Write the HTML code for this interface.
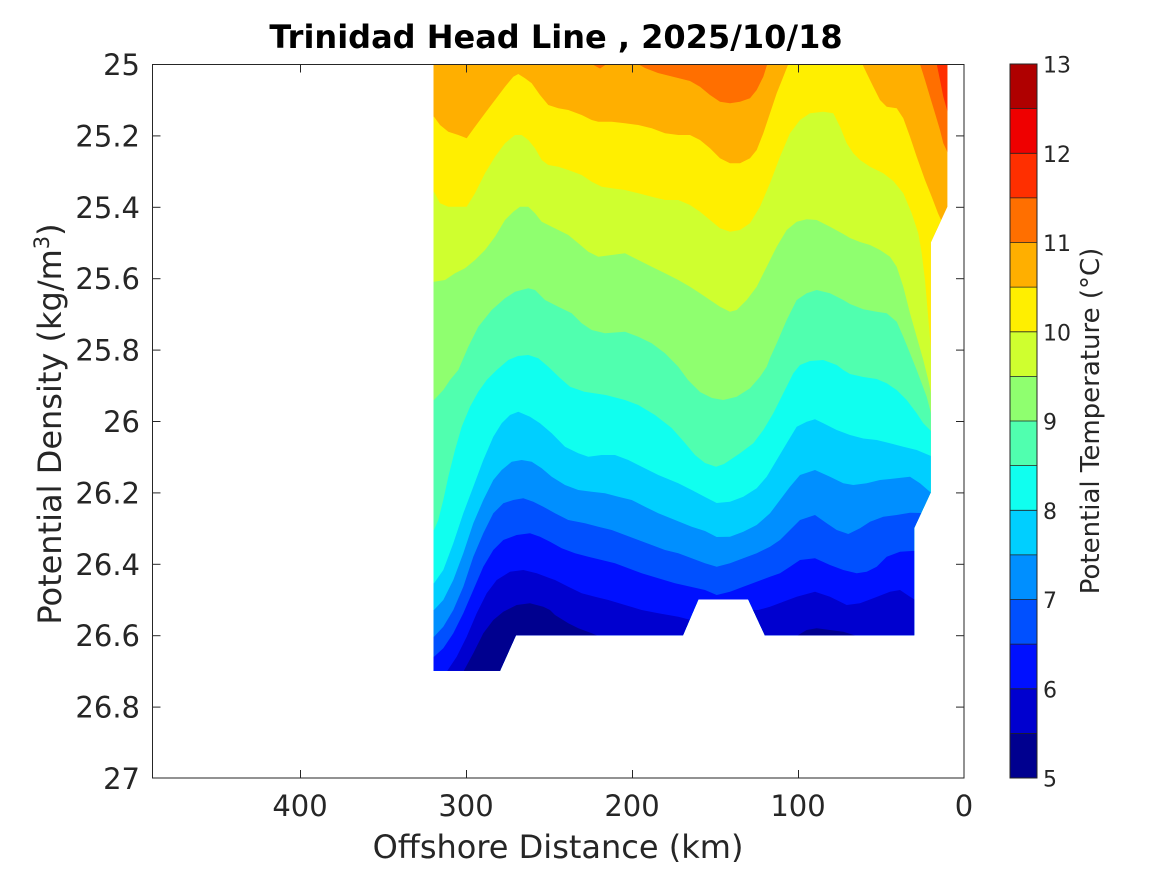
<!DOCTYPE html>
<html>
<head>
<meta charset="utf-8">
<style>
  html, body { margin:0; padding:0; background:#ffffff; }
  svg { display:block; }
  text { font-family: "DejaVu Sans", "Liberation Sans", sans-serif; fill:#262626; }
</style>
</head>
<body>
<svg width="1167" height="875" viewBox="0 0 1167 875" xmlns="http://www.w3.org/2000/svg">
  <rect x="0" y="0" width="1167" height="875" fill="#ffffff"/>
  <defs>
    <clipPath id="data">
      <polygon points="433.5,64 947.4,64 947.4,206.8 930.8,242.5 930.8,492.4 914.2,528.1 914.2,635.2 764.8,635.2 748.2,599.5 698.4,599.5 683,635.2 516,635.2 500,670.9 433.5,670.9"/>
    </clipPath>
  </defs>

  <g clip-path="url(#data)">
    <rect x="400" y="60" width="600" height="640" fill="#ffaf00"/>
    <path fill="#ff6f00" d="M591.7,64 L600,68.5 L606.7,64 Z"/>
    <path fill="#ff6f00" d="M636,60 L638,64 L645,68 L658,73 L678,78 L690,81 L700,86.7 L710,95 L720,101.7 L730,103.3 L740,101.7 L750,98.3 L756.7,90 L763.3,76.7 L767.3,64 L768,60 Z"/>
    <path fill="#ff6f00" d="M919,60 L920,64 L925,80 L930,96.7 L935,113.3 L940,130 L943.3,143.3 L948,153.3 L1000,153.3 L1000,60 Z"/>
    <path fill="#ff2f00" d="M936,60 L936.7,64 L940,80 L943.3,96.7 L948,113.3 L1000,113.3 L1000,60 Z"/>

    <path fill="#ffef00" d="M400,116.7 L434,116.7 L440,125 L448.3,131.7 L458.3,135 L466.7,138.3 L475,126.7 L485,113.3 L495,100 L505,86.7 L513.3,76.7 L518.3,74 L525,78.3 L531.7,83.3 L540,95 L548.3,105 L558.3,108.3 L568.3,110 L581.7,115 L591.7,120 L598.3,121.7 L611.7,121.7 L625,123.3 L638.3,125 L651.7,128.3 L665,133.3 L678.3,135 L690,135 L700,140 L710,148.3 L720,158.3 L730,163.3 L740,163.3 L750,158.3 L756.7,150 L763.3,133.3 L770,113.3 L776.7,93.3 L783.3,76.7 L788.3,64 L789,60 L862,60 L862.3,64 L866.7,73.3 L873.3,86.7 L880,100 L886.7,106.7 L896.7,108.3 L903.3,118.3 L910,136.7 L916.7,156.7 L925,180 L931.7,196.7 L938,213.3 L942,222 L1000,222 L1000,700 L400,700 Z"/>

    <path fill="#cfff2f" d="M400,191.7 L434,191.7 L440,203.3 L448.3,206.7 L466.7,206.7 L475,193.3 L485,173.3 L495,156.7 L505,143.3 L515,135 L521.7,135 L528.3,140 L535,148.3 L541.7,160 L548.3,165 L558.3,166.7 L568.3,170 L581.7,175 L591.7,181.7 L601.7,186.7 L611.7,188.3 L625,190 L638.3,193.3 L651.7,196.7 L665,200 L678.3,200 L690,205 L700,211.7 L710,220 L720,228.3 L730,231.7 L740,230 L750,223.3 L760,206.7 L770,183.3 L780,156.7 L790,133.3 L800,120 L810,113.3 L823.3,111.7 L833.3,113.3 L840,126.7 L846.7,143.3 L853.3,153.3 L860,160 L870,166.7 L883.3,173.3 L893.3,181 L903.3,193.3 L911.7,213.3 L918.3,233.3 L921.7,253.3 L925,280 L927.3,306.7 L929.3,330 L931,353.3 L1000,353.3 L1000,700 L400,700 Z"/>

    <path fill="#8fff6f" d="M400,281.7 L434,281.7 L445,280 L455,273.3 L465,268.3 L475,260 L485,250 L495,236.7 L505,220 L513.3,211.7 L520,206.7 L528.3,206.7 L535,213.3 L541.7,221.7 L551.7,226.7 L558.3,230 L568.3,235 L578.3,243.3 L588.3,251.7 L598.3,256.7 L611.7,255 L625,253.3 L638.3,260 L651.7,266.7 L665,273.3 L678.3,280 L690,286.7 L700,293.3 L710,300 L720,306.7 L730,311.7 L736.7,310 L746.7,300 L756.7,286.7 L766.7,266.7 L776.7,246.7 L786.7,230 L796.7,221.7 L806.7,219.3 L816.7,220 L830,226.7 L843.3,234 L850,238 L860,242 L870,245 L880,250 L890,256.7 L896.7,266.7 L903.3,286.7 L910,313.3 L916.7,336.7 L923.3,360 L928.3,380 L931,393.3 L1000,393.3 L1000,700 L400,700 Z"/>

    <path fill="#50ffaf" d="M400,400 L434,400 L443.3,390 L450,380 L458.3,370 L468.3,346.7 L478.3,326.7 L491.7,310 L505,298.3 L515,291.7 L528.3,288.3 L535,290 L545,300 L558.3,306.7 L571.7,313.3 L581.7,323.3 L591.7,330 L605,333.3 L625,331.7 L638.3,336.7 L651.7,343.3 L665,353.3 L678.3,366.7 L688,380 L700,392 L712,398 L723.3,400 L736.7,396.7 L750,388.3 L760,376.7 L766.7,366.7 L770,358 L776.7,343.3 L786.7,320 L796.7,300 L806.7,293.3 L816.7,290 L830,293.3 L843.3,300 L850,304 L863.3,309.3 L876.7,311.7 L886.7,313.3 L896.7,321.7 L903.3,336.7 L910,353.3 L916.7,370 L921.7,383.3 L926.7,396.7 L931,413.3 L1000,413.3 L1000,700 L400,700 Z"/>

    <path fill="#10ffef" d="M400,530 L434,530 L438.3,520 L443.3,500 L448.3,476.7 L455,450 L461.7,426.7 L470,406.7 L478.3,391.7 L486.7,380 L496.7,370 L508.3,360 L518,356 L528.3,355 L538.3,358.3 L548.3,366.7 L551.7,370 L560,378 L570,386.7 L584.3,391.7 L605.7,395 L625,400 L638.3,405 L655,415 L671.7,428 L685,443 L695,455 L705,463 L716,466.7 L724,464 L730,460 L740,453.3 L753.3,443.3 L763.3,430 L773.3,413.3 L783.3,393.3 L793.3,373.3 L800,365 L810,361 L823.3,360 L836.7,365 L843.3,370 L850,374 L863.3,377 L876.7,379 L886.7,383.3 L896.7,390 L906.7,400 L916.7,413.3 L923.3,423.3 L931,431 L1000,431 L1000,700 L400,700 Z"/>

    <path fill="#00cfff" d="M400,583.3 L434,583.3 L443.3,570 L453.3,543.3 L463.3,513.3 L473.3,486.7 L483.3,460 L493.3,436.7 L501.7,423.3 L510,415 L518.3,411.7 L530,416.7 L540,423.3 L551.7,433.3 L565,446.7 L578.3,453.3 L588.3,456.7 L601.7,455 L615,455 L628.3,460 L641.7,466.7 L658.3,475 L678.3,483.3 L691.7,490 L705,497 L716.7,503 L730,501.7 L743.3,496.7 L756.7,488.3 L766.7,476.7 L776.7,460 L786.7,443.3 L796.7,426.7 L806.7,421.7 L815,419.3 L823.3,423.3 L836.7,430 L850,435 L863.3,438.5 L876.7,440 L890,443.3 L903.3,446.7 L916.7,450 L931,456 L1000,456 L1000,700 L400,700 Z"/>

    <path fill="#008fff" d="M400,610 L434,610 L443.3,600 L453.3,580 L463.3,553.3 L473.3,523.3 L483.3,500 L493.3,480 L501.7,470 L511.7,461.7 L521.7,460 L531.7,461.7 L541.7,468.3 L551.7,476.7 L565,485 L578.3,490 L591.7,491.7 L605,493.3 L618.3,496.7 L631.7,500 L645,506.7 L658.3,513.3 L675,520 L691.7,526.7 L705,531 L716.7,537 L730,536.7 L743.3,531.7 L756.7,525 L770,513.3 L780,500 L790,486.7 L800,475 L815,470 L830,476.7 L843.3,483.3 L853.3,485 L866.7,483.3 L880,480 L896.7,478.3 L910,476.7 L920,483.3 L931,492.7 L1000,492.7 L1000,700 L400,700 Z"/>

    <path fill="#0050ff" d="M400,636.7 L434,636.7 L443.3,626.7 L453.3,610 L463.3,586.7 L473.3,556.7 L483.3,533.3 L493.3,513.3 L503.3,503.3 L513.3,500 L523.3,498.3 L533.3,501.7 L543.3,506.7 L555,513.3 L568.3,520 L585,523.3 L598.3,526.7 L611.7,530 L625,535 L638.3,540 L651.7,545 L665,550 L678.3,553.3 L691.7,558.3 L705,563.3 L716.7,566.7 L730,563.3 L743.3,558.3 L756.7,553.3 L770,546.7 L780,540 L790,530 L800,520 L815,515 L826.7,523.3 L836.7,530 L848.3,534 L860,528.3 L870,521.7 L883.3,516.7 L896.7,515 L910,512.7 L922,513 L1000,513 L1000,700 L400,700 Z"/>

    <path fill="#0010ff" d="M400,656.7 L434,656.7 L443.3,648.3 L453.3,633.3 L463.3,613.3 L473.3,590 L483.3,566.7 L493.3,550 L503.3,540 L516.7,535 L530,533.3 L540,536.7 L550,541.7 L561.7,548.3 L575,553.3 L588.3,556.7 L601.7,560 L615,563.3 L628.3,568.3 L641.7,573.3 L658.3,578.3 L675,583.3 L691.7,587 L705,590 L716.7,595 L730,591.7 L743.3,586.7 L756.7,581.7 L770,576.7 L780,573.3 L790,566.7 L800,560 L815,558.3 L830,565 L843.3,570 L856.7,573.3 L866.7,571.7 L876.7,566.7 L886.7,556.7 L900,551.7 L915.3,550.7 L1000,550.7 L1000,700 L400,700 Z"/>

    <path fill="#0000cf" d="M446.7,700 L446.7,671.7 L456.7,656.7 L466.7,636.7 L476.7,613.3 L486.7,593.3 L496.7,580 L510,571.7 L523.3,570 L536.7,573.3 L550,578.3 L555,580 L568.3,586.7 L581.7,593.3 L595,596.7 L608.3,600 L625,605 L641.7,610 L658.3,613.3 L678.3,616.7 L691,620 L754,610 L758.3,610 L770,606.7 L783.3,601.7 L796.7,596.7 L815,591.7 L830,596.7 L846.7,605 L860,603.3 L873.3,598.3 L890,591.7 L900,590 L910,596.7 L915.3,600 L1000,600 L1000,700 Z"/>

    <path fill="#00008f" d="M463.3,700 L463.3,671.7 L473.3,653.3 L483.3,633.3 L493.3,620 L503.3,611.7 L516.7,605 L530,603.3 L543.3,606.7 L550,610 L555,615 L568.3,623.3 L578.3,628.3 L591.7,633.3 L598.3,636 L598.3,700 Z"/>
    <path fill="#00008f" d="M796.7,636 L806.7,630 L816.7,628.3 L830,630 L843.3,631.7 L856.7,636 Z"/>
  </g>

  <rect x="152.5" y="64.5" width="811.5" height="713.5" fill="none" stroke="#262626" stroke-width="1"/>

  <g stroke="#262626" stroke-width="1">
    <line x1="152.5" y1="135.9" x2="160.5" y2="135.9"/><line x1="956" y1="135.9" x2="964" y2="135.9"/>
    <line x1="152.5" y1="207.3" x2="160.5" y2="207.3"/><line x1="956" y1="207.3" x2="964" y2="207.3"/>
    <line x1="152.5" y1="278.7" x2="160.5" y2="278.7"/><line x1="956" y1="278.7" x2="964" y2="278.7"/>
    <line x1="152.5" y1="350.1" x2="160.5" y2="350.1"/><line x1="956" y1="350.1" x2="964" y2="350.1"/>
    <line x1="152.5" y1="421.5" x2="160.5" y2="421.5"/><line x1="956" y1="421.5" x2="964" y2="421.5"/>
    <line x1="152.5" y1="492.9" x2="160.5" y2="492.9"/><line x1="956" y1="492.9" x2="964" y2="492.9"/>
    <line x1="152.5" y1="564.3" x2="160.5" y2="564.3"/><line x1="956" y1="564.3" x2="964" y2="564.3"/>
    <line x1="152.5" y1="635.7" x2="160.5" y2="635.7"/><line x1="956" y1="635.7" x2="964" y2="635.7"/>
    <line x1="152.5" y1="707.1" x2="160.5" y2="707.1"/><line x1="956" y1="707.1" x2="964" y2="707.1"/>
    <line x1="300.5" y1="778" x2="300.5" y2="770"/><line x1="300.5" y1="64.5" x2="300.5" y2="72.5"/>
    <line x1="466.5" y1="778" x2="466.5" y2="770"/><line x1="466.5" y1="64.5" x2="466.5" y2="72.5"/>
    <line x1="632.5" y1="778" x2="632.5" y2="770"/><line x1="632.5" y1="64.5" x2="632.5" y2="72.5"/>
    <line x1="798.5" y1="778" x2="798.5" y2="770"/><line x1="798.5" y1="64.5" x2="798.5" y2="72.5"/>
  </g>

  <g font-size="29" text-anchor="end">
    <text x="140" y="75">25</text>
    <text x="140" y="146.4">25.2</text>
    <text x="140" y="217.8">25.4</text>
    <text x="140" y="289.2">25.6</text>
    <text x="140" y="360.6">25.8</text>
    <text x="140" y="432">26</text>
    <text x="140" y="503.4">26.2</text>
    <text x="140" y="574.8">26.4</text>
    <text x="140" y="646.2">26.6</text>
    <text x="140" y="717.6">26.8</text>
    <text x="140" y="789">27</text>
  </g>

  <g font-size="29" text-anchor="middle">
    <text x="300" y="816">400</text>
    <text x="466" y="816">300</text>
    <text x="632" y="816">200</text>
    <text x="798" y="816">100</text>
    <text x="964" y="816">0</text>
  </g>

  <text x="558" y="858" font-size="32" text-anchor="middle">Offshore Distance (km)</text>
  <text transform="translate(61,424) rotate(-90)" font-size="32" text-anchor="middle">Potential Density (kg/m<tspan dy="-12" font-size="21">3</tspan><tspan dy="12">)</tspan></text>

  <text x="556" y="48" font-size="32" font-weight="bold" text-anchor="middle" style="fill:#000">Trinidad Head Line , 2025/10/18</text>

  <g>
    <rect x="1010" y="64" width="27" height="44.7" fill="#af0000"/>
    <rect x="1010" y="108.6" width="27" height="44.7" fill="#ef0000"/>
    <rect x="1010" y="153.3" width="27" height="44.7" fill="#ff2f00"/>
    <rect x="1010" y="197.9" width="27" height="44.7" fill="#ff6f00"/>
    <rect x="1010" y="242.5" width="27" height="44.7" fill="#ffaf00"/>
    <rect x="1010" y="287.1" width="27" height="44.7" fill="#ffef00"/>
    <rect x="1010" y="331.8" width="27" height="44.7" fill="#cfff2f"/>
    <rect x="1010" y="376.4" width="27" height="44.7" fill="#8fff6f"/>
    <rect x="1010" y="421" width="27" height="44.7" fill="#50ffaf"/>
    <rect x="1010" y="465.6" width="27" height="44.7" fill="#10ffef"/>
    <rect x="1010" y="510.3" width="27" height="44.7" fill="#00cfff"/>
    <rect x="1010" y="554.9" width="27" height="44.7" fill="#008fff"/>
    <rect x="1010" y="599.5" width="27" height="44.7" fill="#0050ff"/>
    <rect x="1010" y="644.1" width="27" height="44.7" fill="#0010ff"/>
    <rect x="1010" y="688.8" width="27" height="44.7" fill="#0000cf"/>
    <rect x="1010" y="733.4" width="27" height="44.6" fill="#00008f"/>
    <g stroke="#222" stroke-width="0.8">
      <line x1="1010" y1="108.6" x2="1037" y2="108.6"/>
      <line x1="1010" y1="153.3" x2="1037" y2="153.3"/>
      <line x1="1010" y1="197.9" x2="1037" y2="197.9"/>
      <line x1="1010" y1="242.5" x2="1037" y2="242.5"/>
      <line x1="1010" y1="287.1" x2="1037" y2="287.1"/>
      <line x1="1010" y1="331.8" x2="1037" y2="331.8"/>
      <line x1="1010" y1="376.4" x2="1037" y2="376.4"/>
      <line x1="1010" y1="421" x2="1037" y2="421"/>
      <line x1="1010" y1="465.6" x2="1037" y2="465.6"/>
      <line x1="1010" y1="510.3" x2="1037" y2="510.3"/>
      <line x1="1010" y1="554.9" x2="1037" y2="554.9"/>
      <line x1="1010" y1="599.5" x2="1037" y2="599.5"/>
      <line x1="1010" y1="644.1" x2="1037" y2="644.1"/>
      <line x1="1010" y1="688.8" x2="1037" y2="688.8"/>
      <line x1="1010" y1="733.4" x2="1037" y2="733.4"/>
    </g>
    <rect x="1010" y="64" width="27" height="714" fill="none" stroke="#262626" stroke-width="1"/>
  </g>

  <g font-size="22" text-anchor="start">
    <text x="1043" y="72.5">13</text>
    <text x="1043" y="161.8">12</text>
    <text x="1043" y="251">11</text>
    <text x="1043" y="340.3">10</text>
    <text x="1043" y="429.5">9</text>
    <text x="1043" y="518.8">8</text>
    <text x="1043" y="608">7</text>
    <text x="1043" y="697.3">6</text>
    <text x="1043" y="786.5">5</text>
  </g>

  <text transform="translate(1099,421) rotate(-90)" font-size="26" text-anchor="middle">Potential Temperature (°C)</text>
</svg>
</body>
</html>
